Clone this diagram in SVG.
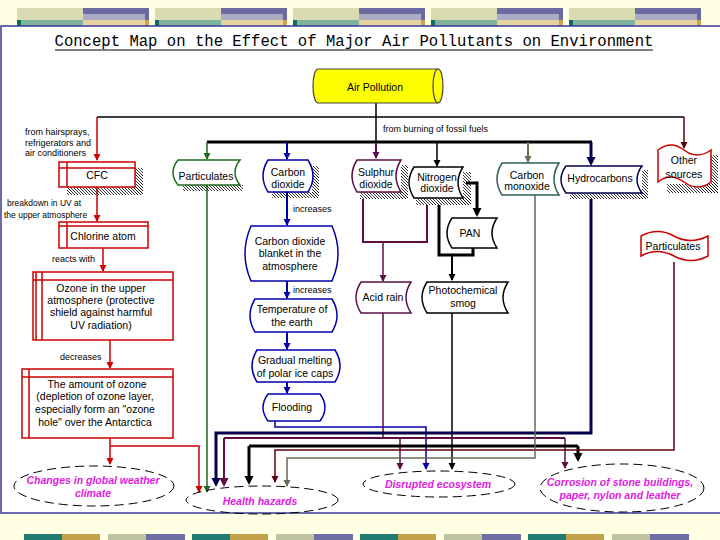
<svg xmlns="http://www.w3.org/2000/svg" width="720" height="540" viewBox="0 0 720 540">
<defs>
<style>
text{font-family:"Liberation Sans",Arial,sans-serif;font-size:10.5px;text-anchor:middle;fill:#000}
.lbl{font-size:9px;text-anchor:start}
.lbs{font-size:8.5px;text-anchor:start}
.out{font-weight:bold;font-style:italic;fill:#E020E0}
.ell{fill:none;stroke:#000;stroke-width:1;stroke-dasharray:9 5}
.bx{fill:#fff;stroke-width:1.5}
.c{fill:none;stroke-width:1.5}
.r{stroke:#CC0000}
.b{stroke:#0000AA}
.g{stroke:#1E6B1E}
.p{stroke:#5A0E45}
.k{stroke:#000}
.o{stroke:#6A6A55}
.n{stroke:#00004D}
.m{stroke:#5C0010}
.t3{stroke-width:3}
.t2{stroke-width:2}
.hx{fill:url(#h)}
</style>
<pattern id="h" width="3" height="3" patternUnits="userSpaceOnUse"><path d="M-1,-1 L4,4" stroke="#000" stroke-width="0.8"/></pattern>
<marker id="aR" markerWidth="8" markerHeight="8" refX="6" refY="3.5" orient="auto" markerUnits="userSpaceOnUse"><path d="M0,0 L7,3.5 L0,7 Z" fill="#CC0000"/></marker>
<marker id="aB" markerWidth="8" markerHeight="8" refX="6" refY="3.5" orient="auto" markerUnits="userSpaceOnUse"><path d="M0,0 L7,3.5 L0,7 Z" fill="#0000AA"/></marker>
<marker id="aG" markerWidth="8" markerHeight="8" refX="6" refY="3.5" orient="auto" markerUnits="userSpaceOnUse"><path d="M0,0 L7,3.5 L0,7 Z" fill="#1E6B1E"/></marker>
<marker id="aP" markerWidth="8" markerHeight="8" refX="6" refY="3.5" orient="auto" markerUnits="userSpaceOnUse"><path d="M0,0 L7,3.5 L0,7 Z" fill="#5A0E45"/></marker>
<marker id="aK" markerWidth="8" markerHeight="8" refX="6" refY="3.5" orient="auto" markerUnits="userSpaceOnUse"><path d="M0,0 L7,3.5 L0,7 Z" fill="#000"/></marker>
<marker id="aO" markerWidth="8" markerHeight="8" refX="6" refY="3.5" orient="auto" markerUnits="userSpaceOnUse"><path d="M0,0 L7,3.5 L0,7 Z" fill="#6A6A55"/></marker>
<marker id="aM" markerWidth="8" markerHeight="8" refX="6" refY="3.5" orient="auto" markerUnits="userSpaceOnUse"><path d="M0,0 L7,3.5 L0,7 Z" fill="#5C0010"/></marker>
<marker id="aKT" markerWidth="10" markerHeight="10" refX="6" refY="4.5" orient="auto" markerUnits="userSpaceOnUse"><path d="M0,0 L9,4.5 L0,9 Z" fill="#000"/></marker>
<marker id="aNT" markerWidth="10" markerHeight="10" refX="6" refY="4.5" orient="auto" markerUnits="userSpaceOnUse"><path d="M0,0 L9,4.5 L0,9 Z" fill="#00004D"/></marker>
<marker id="aPT" markerWidth="10" markerHeight="10" refX="6" refY="4.5" orient="auto" markerUnits="userSpaceOnUse"><path d="M0,0 L9,4.5 L0,9 Z" fill="#5A0E45"/></marker>
<g id="tb">
<rect x="0" y="8" width="66" height="12" fill="#D9DCB2"/>
<rect x="66" y="8" width="66" height="6" fill="#6B6BA0"/>
<rect x="66" y="14" width="62" height="6" fill="#ABABC3"/>
<rect x="128" y="14" width="4" height="6" fill="#6B6BA0"/>
<rect x="0" y="20" width="66" height="6" fill="#7DB39C"/>
<rect x="0" y="20" width="4" height="6" fill="#0F6B63"/>
<rect x="66" y="20" width="62" height="6" fill="#E6D39F"/>
<rect x="128" y="20" width="4" height="6" fill="#C9A550"/>
</g>
<g id="bb">
<rect x="0" y="534" width="38" height="6" fill="#1F7A70"/>
<rect x="38" y="534" width="38" height="6" fill="#C4A24C"/>
<rect x="84" y="534" width="38" height="6" fill="#BFC29E"/>
<rect x="122" y="534" width="39" height="6" fill="#6F6FA6"/>
</g>
</defs>

<rect width="720" height="540" fill="#FFFFE3"/>
<g id="decor">
<use href="#tb" x="17"/><use href="#tb" x="155"/><use href="#tb" x="293"/><use href="#tb" x="431"/><use href="#tb" x="569"/>
<use href="#bb" x="24"/><use href="#bb" x="192"/><use href="#bb" x="360"/><use href="#bb" x="528"/>
<rect x="1" y="26" width="722" height="487" fill="#fff" stroke="#3A3A9A" stroke-width="1.5"/>
</g>

<g id="title">
<text x="354" y="46" style="font-family:'Liberation Mono','Courier New',monospace;font-size:15.6px">Concept Map on the Effect of Major Air Pollutants on Environment</text>
<line x1="55" y1="50" x2="653" y2="50" stroke="#000" stroke-width="1"/>
</g>

<g id="connectors">
<path class="c k" d="M376,103 V142"/>
<path class="c k" stroke-width="1.2" d="M97,117 H684"/>
<path class="c k t3" d="M207,142 H592"/>
<path class="c r" d="M97,117 V160" marker-end="url(#aR)"/>
<path class="c m" d="M684,117 V148" marker-end="url(#aM)"/>
<path class="c g" d="M207,142 V159" marker-end="url(#aG)"/>
<path class="c b t2" d="M287,142 V159" marker-end="url(#aB)"/>
<path class="c p t2" d="M376,142 V158" marker-end="url(#aP)"/>
<path class="c k" d="M437,142 V166" marker-end="url(#aK)"/>
<path class="c o t2" d="M528,142 V162" marker-end="url(#aO)"/>
<path class="c n t3" d="M591,142 V163" marker-end="url(#aNT)"/>

<path class="c r" d="M97,187 V221" marker-end="url(#aR)"/>
<path class="c r" d="M103,248 V271" marker-end="url(#aR)"/>
<path class="c r" d="M110,340 V368" marker-end="url(#aR)"/>
<path class="c r" d="M110,438 V464" marker-end="url(#aR)"/>
<path class="c r" d="M110,446 H199 V492" marker-end="url(#aR)"/>

<path class="c b t2" d="M287,192 V225" marker-end="url(#aB)"/>
<path class="c b t2" d="M287,281 V298" marker-end="url(#aB)"/>
<path class="c b t2" d="M287,332 V349" marker-end="url(#aB)"/>
<path class="c b t2" d="M287,382 V393" marker-end="url(#aB)"/>
<path class="c b" d="M275,421 V427 H426 V469" marker-end="url(#aB)"/>

<path class="c p t2" d="M363,199 V242 H427 V205"/>
<path class="c p" d="M383,242 V281" marker-end="url(#aP)"/>
<path class="c p" d="M383,313 V438"/>
<path class="c k t3" d="M466,183 H477 V214" marker-end="url(#aKT)"/>
<path class="c k t3" d="M439,205 V255 H473 V248"/>
<path class="c k t2" d="M452,255 V280" marker-end="url(#aK)"/>
<path class="c k" d="M452,313 V469" marker-end="url(#aK)"/>

<path class="c g" d="M207,185 V492" marker-end="url(#aG)"/>
<path class="c n t3" d="M591,199 V433 H216 V484" marker-end="url(#aNT)"/>
<path class="c p t2" d="M224,438 H565"/>
<path class="c p t2" d="M224,438 V484" marker-end="url(#aPT)"/>
<path class="c p" d="M400,438 V469" marker-end="url(#aP)"/>
<path class="c p" d="M565,438 V468" marker-end="url(#aP)"/>
<path class="c k t3" d="M249,446 H578"/>
<path class="c k t3" d="M249,446 V482" marker-end="url(#aKT)"/>
<path class="c k t3" d="M578,446 V459" marker-end="url(#aKT)"/>
<path class="c m" d="M674,262 V450 H275 V482" marker-end="url(#aM)"/>
<path class="c o" d="M535,195 V458 H287 V486" marker-end="url(#aO)"/>
</g>

<g id="labels">
<text class="lbl" x="383" y="132">from burning of fossil fuels</text>
<text class="lbl" x="25" y="135">from hairsprays,</text>
<text class="lbl" x="25" y="146">refrigerators and</text>
<text class="lbl" x="25" y="156">air conditioners</text>
<text class="lbs" x="7" y="206">breakdown in UV at</text>
<text class="lbs" x="4" y="218">the upper atmosphere</text>
<text class="lbl" x="52" y="262">reacts with</text>
<text class="lbl" x="60" y="360">decreases</text>
<text class="lbl" x="293" y="212">increases</text>
<text class="lbl" x="293" y="293">increases</text>
</g>

<g id="air-pollution">
<path d="M318,69 L438,69 A5,17 0 0 1 438,103 L318,103 A5,17 0 0 1 318,69 Z" fill="#FFFF00" stroke="#444" stroke-width="1.2"/>
<path d="M438,69 A5,17 0 0 0 438,103" fill="none" stroke="#444" stroke-width="1.2"/>
<text x="375" y="91">Air Pollution</text>
</g>

<g id="cfc">
<rect class="hx" x="135" y="168" width="8" height="27"/>
<rect class="hx" x="67" y="187" width="76" height="8"/>
<rect class="bx r" stroke-width="2" x="59" y="162" width="76" height="25"/>
<path class="c r" d="M67,162 V187 M59,168 H135"/>
<text x="97" y="179" fill="#3030C0">CFC</text>
</g>

<g id="chlorine-atom">
<rect class="bx r" stroke-width="2" x="59" y="222" width="89" height="26"/>
<path class="c r" d="M67,222 V248 M59,226 H148"/>
<text x="103" y="240" fill="#1A1A80">Chlorine atom</text>
</g>

<g id="ozone">
<rect class="bx r" x="33" y="272" width="140" height="68"/>
<path class="c r" d="M36,272 V340 M42,272 V340 M33,280 H173"/>
<text x="101" y="292" fill="#1A1A80">Ozone in the upper</text>
<text x="101" y="304" fill="#1A1A80">atmosphere (protective</text>
<text x="101" y="316" fill="#1A1A80">shield against harmful</text>
<text x="101" y="329" fill="#1A1A80">UV radiation)</text>
</g>

<g id="amount-of-ozone">
<rect class="bx r" x="22" y="369" width="151" height="69"/>
<path class="c r" d="M29,369 V438 M22,377 H173"/>
<text x="97" y="388" fill="#1A1A80">The amount of ozone</text>
<text x="95" y="400" fill="#1A1A80">(depletion of ozone layer,</text>
<text x="95" y="413" fill="#1A1A80">especially form an "ozone</text>
<text x="95" y="426" fill="#1A1A80">hole" over the Antarctica</text>
</g>

<g id="particulates-green">
<rect class="hx" x="183" y="185" width="60" height="6"/>
<path class="bx g" d="M178,160 H240 Q230,172.5 240,185 H178 Q168,172.5 178,160 Z"/>
<text x="206" y="180">Particulates</text>
</g>

<g id="carbon-dioxide">
<rect class="hx" x="312" y="166" width="7" height="32"/>
<rect class="hx" x="272" y="192" width="47" height="6"/>
<path class="bx b" d="M268,160 H308 Q318,176 308,192 H268 Q258,176 268,160 Z"/>
<text x="288" y="176" fill="#000066">Carbon</text>
<text x="288" y="188" fill="#000066">dioxide</text>
</g>

<g id="co2-blanket">
<path class="bx b" d="M251,226 H332 Q344,253.5 332,281 H251 Q239,253.5 251,226 Z"/>
<text x="290" y="245" fill="#000066">Carbon dioxide</text>
<text x="290" y="257" fill="#000066">blanket in the</text>
<text x="290" y="270" fill="#000066">atmosphere</text>
</g>

<g id="temperature">
<path class="bx b" d="M255,299 H332 Q342,315.5 332,332 H255 Q245,315.5 255,299 Z"/>
<text x="292" y="313" fill="#000066">Temperature of</text>
<text x="292" y="326" fill="#000066">the earth</text>
</g>

<g id="melting">
<path class="bx b" d="M257,350 H335 Q345,366 335,382 H257 Q247,366 257,350 Z"/>
<text x="295" y="364" fill="#000066">Gradual melting</text>
<text x="295" y="377" fill="#000066">of polar ice caps</text>
</g>

<g id="flooding">
<path class="bx b" d="M268,394 H320 Q330,407.5 320,421 H268 Q258,407.5 268,394 Z"/>
<text x="292" y="411" fill="#000066">Flooding</text>
</g>

<g id="sulphur-dioxide">
<rect class="hx" x="401" y="165" width="7" height="34"/>
<rect class="hx" x="360" y="192" width="48" height="7"/>
<path class="bx p" d="M357,160 H401 Q391,176 401,192 H357 Q347,176 357,160 Z"/>
<text x="376" y="176" fill="#3A0A30">Sulphur</text>
<text x="376" y="188" fill="#3A0A30">dioxide</text>
</g>

<g id="nitrogen-dioxide">
<rect class="hx" x="463" y="172" width="8" height="33"/>
<rect class="hx" x="416" y="198" width="55" height="7"/>
<path class="bx k" d="M414,167 H463 Q453,182.5 463,198 H414 Q404,182.5 414,167 Z"/>
<text x="437" y="181">Nitrogen</text>
<text x="437" y="192">dioxide</text>
</g>

<g id="pan">
<path class="bx k" d="M452,218 H497 Q487,233 497,248 H452 Q442,233 452,218 Z"/>
<text x="470" y="237">PAN</text>
</g>

<g id="acid-rain">
<path class="bx p" d="M361,282 H411 Q401,297.5 411,313 H361 Q351,297.5 361,282 Z"/>
<text x="383" y="301" fill="#2A6A4A">Acid rain</text>
</g>

<g id="photochemical-smog">
<path class="bx k" d="M427,282 H508 Q498,297.5 508,313 H427 Q417,297.5 427,282 Z"/>
<text x="463" y="294">Photochemical</text>
<text x="463" y="307">smog</text>
</g>

<g id="carbon-monoxide">
<path class="bx" stroke="#2F5F55" d="M502,163 H559 Q549,179 559,195 H502 Q492,179 502,163 Z"/>
<text x="527" y="179" fill="#2F5F55">Carbon</text>
<text x="527" y="190" fill="#2F5F55">monoxide</text>
</g>

<g id="hydrocarbons">
<rect class="hx" x="642" y="170" width="6" height="29"/>
<rect class="hx" x="570" y="193" width="78" height="6"/>
<path class="bx n" stroke-width="2" d="M566,166 H642 Q632,179.5 642,193 H566 Q556,179.5 566,166 Z"/>
<text x="600" y="182">Hydrocarbons</text>
</g>

<g id="other-sources">
<rect class="hx" x="706" y="155" width="12" height="38"/>
<rect class="hx" x="667" y="184" width="51" height="9"/>
<path class="bx r" stroke-width="2" d="M658,150 Q671,140 684,150 T711,150 V182 Q698,192 684,182 T658,182 Z"/>
<text x="684" y="164" fill="#CC33CC">Other</text>
<text x="684" y="178" fill="#CC33CC">sources</text>
</g>

<g id="particulates-red">
<path class="bx r" d="M641,236 Q658,227 674,236 T708,236 V256 Q691,265 674,256 T641,256 Z"/>
<text x="673" y="250" fill="#CC33CC">Particulates</text>
</g>

<g id="changes-climate">
<ellipse class="ell" cx="94" cy="486" rx="80" ry="20"/>
<text class="out" x="93" y="484">Changes in global weather</text>
<text class="out" x="93" y="497">climate</text>
</g>

<g id="health-hazards">
<ellipse class="ell" cx="262" cy="500" rx="76" ry="14"/>
<text class="out" x="260" y="505">Health hazards</text>
</g>

<g id="disrupted-ecosystem">
<ellipse class="ell" cx="439" cy="484" rx="76" ry="13"/>
<text class="out" x="438" y="488">Disrupted ecosystem</text>
</g>

<g id="corrosion">
<ellipse class="ell" cx="622" cy="488" rx="82" ry="24"/>
<text class="out" x="620" y="486">Corrosion of stone buildings,</text>
<text class="out" x="620" y="499">paper, nylon and leather</text>
</g>
</svg>
